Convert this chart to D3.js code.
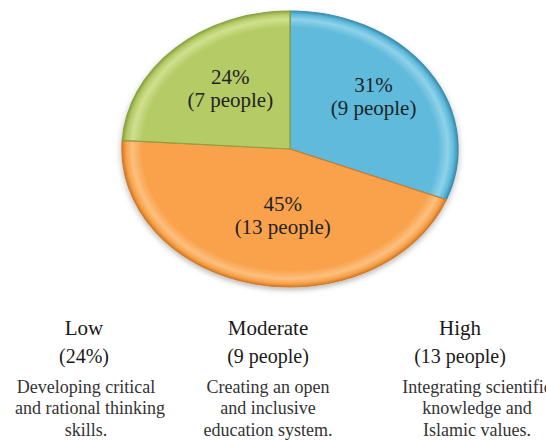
<!DOCTYPE html>
<html>
<head>
<meta charset="utf-8">
<script src="https://cdn.jsdelivr.net/npm/d3@7/dist/d3.min.js"></script>
<style>
  html, body { margin: 0; padding: 0; background: #ffffff; }
  svg { display: block; }
</style>
</head>
<body>
<div id="chart"></div>
<script>
// ---------------- data ----------------
const sliceLevels   = ["Moderate", "High", "Low"];      // clockwise from 12 o'clock
const slicePercents = [31, 45, 24];
const slicePeople   = [9, 13, 7];

const legendLevels = ["Low", "Moderate", "High"];
const legendSubs   = ["(24%)", "(9 people)", "(13 people)"];
const legendDescs  = [
  ["Developing critical", "and rational thinking", "skills."],
  ["Creating an open", "and inclusive", "education system."],
  ["Integrating scientific", "knowledge and", "Islamic values."]
];

// ---------------- layout / style ----------------
const W = 546, H = 441;
const cx = 290, cy = 149, rx = 168, ry = 138;
const sliceColors = {
  Moderate: { base: "#5fbadb", dark: "#3c8fb0", light: "#8fd2ea" },
  High:     { base: "#f9a24b", dark: "#d27b29", light: "#fcc07f" },
  Low:      { base: "#b5cb65", dark: "#8aa343", light: "#d0e08f" }
};
const labelNudge = [[3, -7], [14, -11], [7, -2]];
const legendHeadX = [84, 268, 460];
const legendDescX = [86, 268, 477];
const font = "'Liberation Serif', 'Times New Roman', serif";

const svg = d3.select("#chart").append("svg")
  .attr("width", W).attr("height", H);

const defs = svg.append("defs");
const shadow = defs.append("filter").attr("id", "shadow")
  .attr("x", "-20%").attr("y", "-20%").attr("width", "140%").attr("height", "140%");
shadow.append("feDropShadow").attr("dx", 0).attr("dy", 3)
  .attr("stdDeviation", 3).attr("flood-color", "#000").attr("flood-opacity", 0.28);

const R = rx; // draw circle pie, squash vertically
sliceLevels.forEach(lv => {
  const c = sliceColors[lv];
  const g = defs.append("radialGradient").attr("id", "grad-" + lv)
    .attr("gradientUnits", "userSpaceOnUse")
    .attr("cx", 0).attr("cy", 0).attr("r", R);
  g.append("stop").attr("offset", "0%").attr("stop-color", c.base);
  g.append("stop").attr("offset", "88%").attr("stop-color", c.base);
  g.append("stop").attr("offset", "94%").attr("stop-color", c.light);
  g.append("stop").attr("offset", "97.5%").attr("stop-color", c.base);
  g.append("stop").attr("offset", "100%").attr("stop-color", c.dark);
});

const pie = d3.pie().sort(null).value(d => d);
const arcs = pie(slicePercents);
const arc = d3.arc().innerRadius(0).outerRadius(R);

const pieG = svg.append("g")
  .attr("transform", `translate(${cx},${cy}) scale(1,${ry / rx})`)
  .attr("filter", "url(#shadow)");

pieG.selectAll("path.slice")
  .data(arcs)
  .join("path")
  .attr("class", "slice")
  .attr("d", arc)
  .attr("fill", (d, i) => `url(#grad-${sliceLevels[i]})`)
  .attr("stroke", (d, i) => sliceColors[sliceLevels[i]].dark)
  .attr("stroke-width", 1.4)
  .attr("stroke-linejoin", "round");

// slice labels
const labelArc = d3.arc().innerRadius(R * 0.58).outerRadius(R * 0.58);
const labG = svg.append("g")
  .attr("text-anchor", "middle")
  .attr("font-family", font)
  .attr("font-size", 21)
  .attr("fill", "#1e2326");
arcs.forEach((a, i) => {
  const [x0, y0] = labelArc.centroid(a);
  const x = cx + x0 + labelNudge[i][0];
  const y = cy + y0 * (ry / rx) + labelNudge[i][1];
  labG.append("text").attr("x", x).attr("y", y - 5).text(slicePercents[i] + "%");
  labG.append("text").attr("x", x).attr("y", y + 18).text(`(${slicePeople[i]} people)`);
});

// legend columns
const legG = svg.append("g").attr("font-family", font).attr("text-anchor", "middle");
legendLevels.forEach((lv, i) => {
  legG.append("text").attr("x", legendHeadX[i]).attr("y", 335)
    .attr("font-size", 21).attr("fill", "#1a1a1a").text(lv);
  legG.append("text").attr("x", legendHeadX[i]).attr("y", 363)
    .attr("font-size", 20).attr("fill", "#1a1a1a").text(legendSubs[i]);
  const ys = [393, 414, 436];
  legendDescs[i].forEach((line, j) => {
    legG.append("text").attr("x", legendDescX[i] + (i === 0 && j === 1 ? 4 : 0)).attr("y", ys[j])
      .attr("font-size", 18).attr("fill", "#333").text(line);
  });
});
</script>
</body>
</html>
